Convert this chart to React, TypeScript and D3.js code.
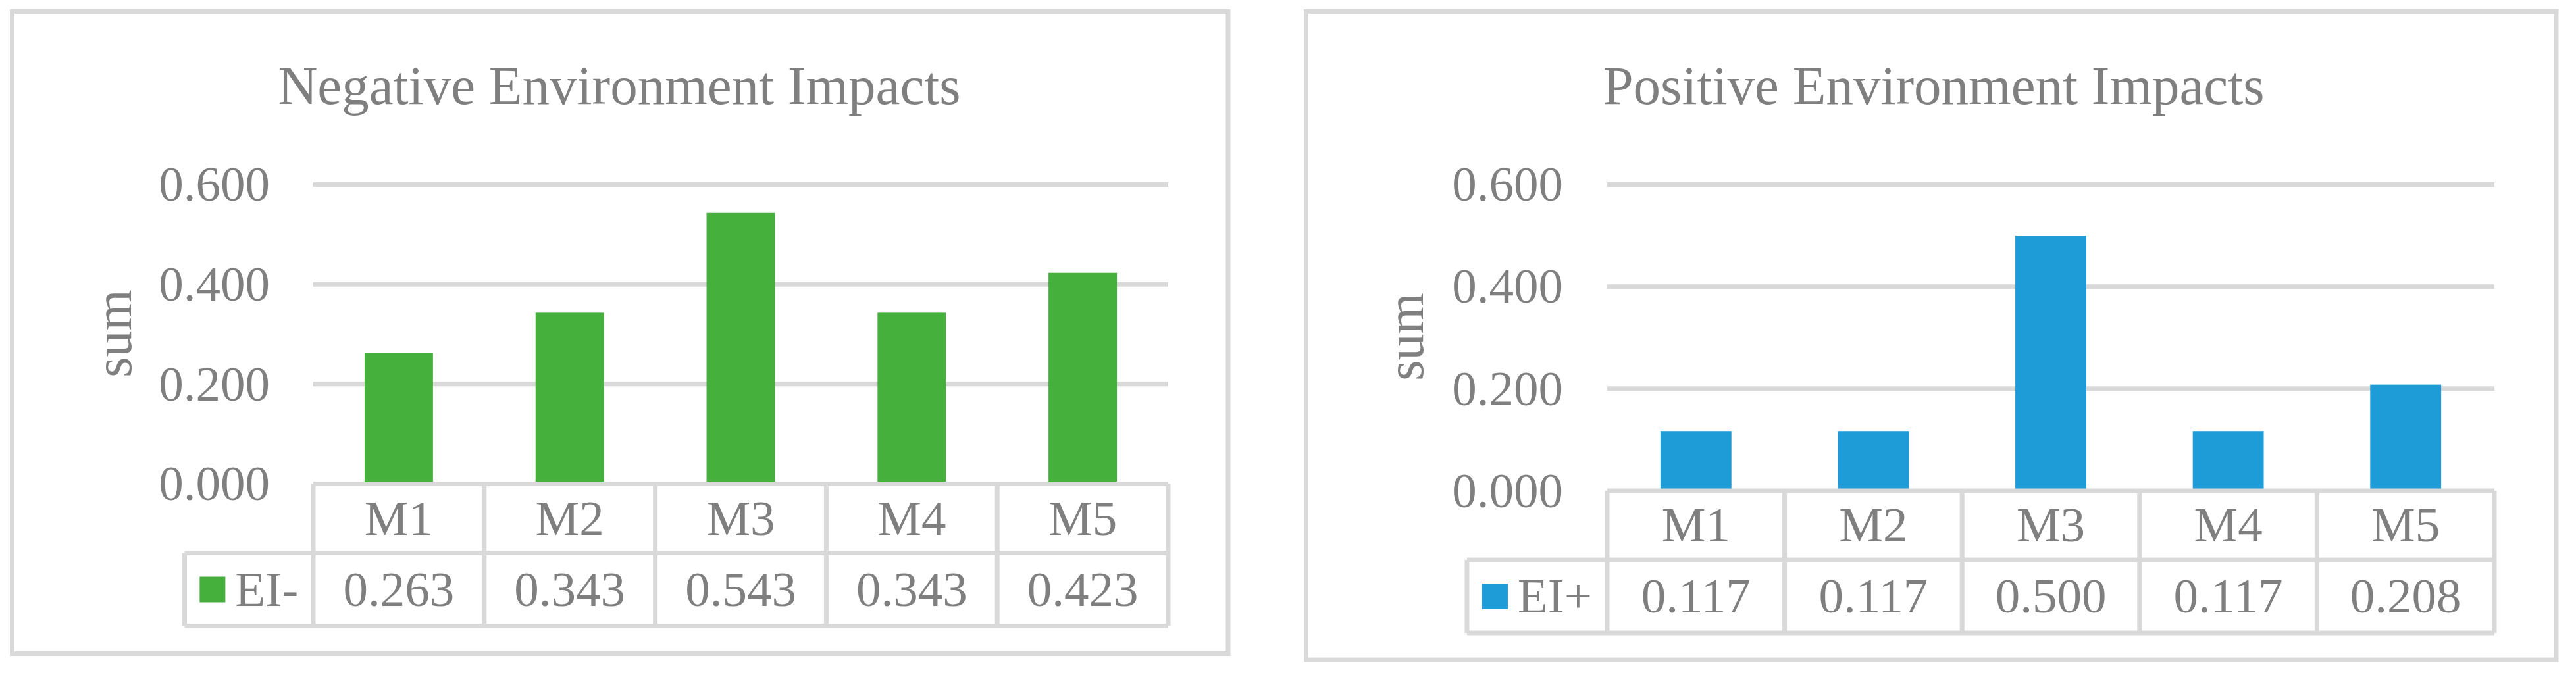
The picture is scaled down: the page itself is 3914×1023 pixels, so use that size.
import React from "react";
import * as d3 from "d3";

const categories = ["M1", "M2", "M3", "M4", "M5"];
const negativeValues = [0.263, 0.343, 0.543, 0.343, 0.423];
const positiveValues = [0.117, 0.117, 0.5, 0.117, 0.208];
const yTicks = [0, 0.2, 0.4, 0.6];
const negativeTitle = "Negative Environment Impacts";
const positiveTitle = "Positive Environment Impacts";
const negativeSeries = "EI-";
const positiveSeries = "EI+";
const yAxisTitle = "sum";

const GRID = "#d9d9d9";
const TEXT = "#7f7f7f";
const FONT = "'Liberation Serif', 'Times New Roman', serif";

type Layout = {
  frame: [number, number, number, number];
  plotL: number;
  plotR: number;
  y0: number;
  yTop: number;
  rowMid: number;
  rowBot: number;
  legendL: number;
  labelRight: number;
  titleCx: number;
  titleBase: number;
  sumCx: number;
  sumCy: number;
};

const leftLayout: Layout = {
  frame: [18.5, 17.5, 1866, 993.5],
  plotL: 476,
  plotR: 1775,
  y0: 735.5,
  yTop: 280.5,
  rowMid: 840.5,
  rowBot: 951.5,
  legendL: 280.5,
  labelRight: 410,
  titleCx: 941,
  titleBase: 158,
  sumCx: 182,
  sumCy: 507,
};

const rightLayout: Layout = {
  frame: [1984.5, 17.5, 3884, 1003],
  plotL: 2442,
  plotR: 3790,
  y0: 746,
  yTop: 280.5,
  rowMid: 851,
  rowBot: 962,
  legendL: 2229,
  labelRight: 2375,
  titleCx: 2938,
  titleBase: 158,
  sumCx: 2145,
  sumCy: 512,
};

function Panel({
  L,
  title,
  series,
  values,
  color,
}: {
  L: Layout;
  title: string;
  series: string;
  values: number[];
  color: string;
}) {
  const x = d3.scaleBand<string>().domain(categories).range([L.plotL, L.plotR]).padding(0);
  const y = d3.scaleLinear().domain([0, 0.6]).range([L.y0, L.yTop]);
  const bw = x.bandwidth();
  const fmt = d3.format(".3f");
  const fs = 75;
  const [fx0, fy0, fx1, fy1] = L.frame;
  const catMidY = (L.y0 + L.rowMid) / 2;
  const valMidY = (L.rowMid + L.rowBot) / 2;
  const capHalf = fs * 0.33;
  const legendCx = (L.legendL + L.plotL) / 2;
  const sq = 39;
  const gap = 15;
  const seriesW = series === "EI-" ? fs * 1.277 : fs * 1.508;
  const contentW = sq + gap + seriesW;
  const legStart = legendCx - contentW / 2;
  const sw = 7;
  return (
    <g>
      <rect x={fx0} y={fy0} width={fx1 - fx0} height={fy1 - fy0} fill="#fff" stroke={GRID} strokeWidth={sw} />
      <text x={L.titleCx} y={L.titleBase} textAnchor="middle" fontSize={83} fill={TEXT} fontFamily={FONT}>
        {title}
      </text>
      {yTicks
        .filter((t) => t > 0)
        .map((t) => (
          <line key={"g" + t} x1={L.plotL} x2={L.plotR} y1={y(t)} y2={y(t)} stroke={GRID} strokeWidth={sw} />
        ))}
      {yTicks.map((t) => (
        <text
          key={"t" + t}
          x={L.labelRight}
          y={y(t) + capHalf}
          textAnchor="end"
          fontSize={fs}
          fill={TEXT}
          fontFamily={FONT}
        >
          {fmt(t)}
        </text>
      ))}
      <text
        transform={`translate(${L.sumCx + 17},${L.sumCy}) rotate(-90)`}
        textAnchor="middle"
        fontSize={80}
        fill={TEXT}
        fontFamily={FONT}
      >
        {yAxisTitle}
      </text>
      {categories.map((c, i) => (
        <rect
          key={"b" + c}
          x={(x(c) as number) + bw * 0.3}
          width={bw * 0.4}
          y={y(values[i])}
          height={L.y0 - y(values[i])}
          fill={color}
        />
      ))}
      {/* data table */}
      <line x1={L.plotL} x2={L.plotR} y1={L.y0} y2={L.y0} stroke={GRID} strokeWidth={sw} />
      <line x1={L.legendL} x2={L.plotR} y1={L.rowMid} y2={L.rowMid} stroke={GRID} strokeWidth={sw} />
      <line x1={L.legendL} x2={L.plotR} y1={L.rowBot} y2={L.rowBot} stroke={GRID} strokeWidth={sw} />
      <line x1={L.legendL} x2={L.legendL} y1={L.rowMid} y2={L.rowBot} stroke={GRID} strokeWidth={sw} />
      {[...categories.map((c) => x(c) as number), L.plotR].map((xx, i) => (
        <line key={"v" + i} x1={xx} x2={xx} y1={L.y0} y2={L.rowBot} stroke={GRID} strokeWidth={sw} />
      ))}
      {categories.map((c) => (
        <text
          key={"c" + c}
          x={(x(c) as number) + bw / 2}
          y={catMidY + capHalf}
          textAnchor="middle"
          fontSize={fs}
          fill={TEXT}
          fontFamily={FONT}
        >
          {c}
        </text>
      ))}
      {categories.map((c, i) => (
        <text
          key={"v" + c}
          x={(x(c) as number) + bw / 2}
          y={valMidY + capHalf}
          textAnchor="middle"
          fontSize={fs}
          fill={TEXT}
          fontFamily={FONT}
        >
          {fmt(values[i])}
        </text>
      ))}
      <rect x={legStart} y={valMidY - sq / 2} width={sq} height={sq} fill={color} />
      <text x={legStart + sq + gap} y={valMidY + capHalf} fontSize={fs} fill={TEXT} fontFamily={FONT}>
        {series}
      </text>
    </g>
  );
}

export default function App() {
  return (
    <svg
      width={3914}
      height={1023}
      style={{ position: "absolute", left: 0, top: 0, display: "block", background: "#fff" }}
    >
      <rect x={0} y={0} width={3914} height={1023} fill="#fff" />
      <Panel L={leftLayout} title={negativeTitle} series={negativeSeries} values={negativeValues} color="#45b03c" />
      <Panel L={rightLayout} title={positiveTitle} series={positiveSeries} values={positiveValues} color="#1e9cd8" />
    </svg>
  );
}
